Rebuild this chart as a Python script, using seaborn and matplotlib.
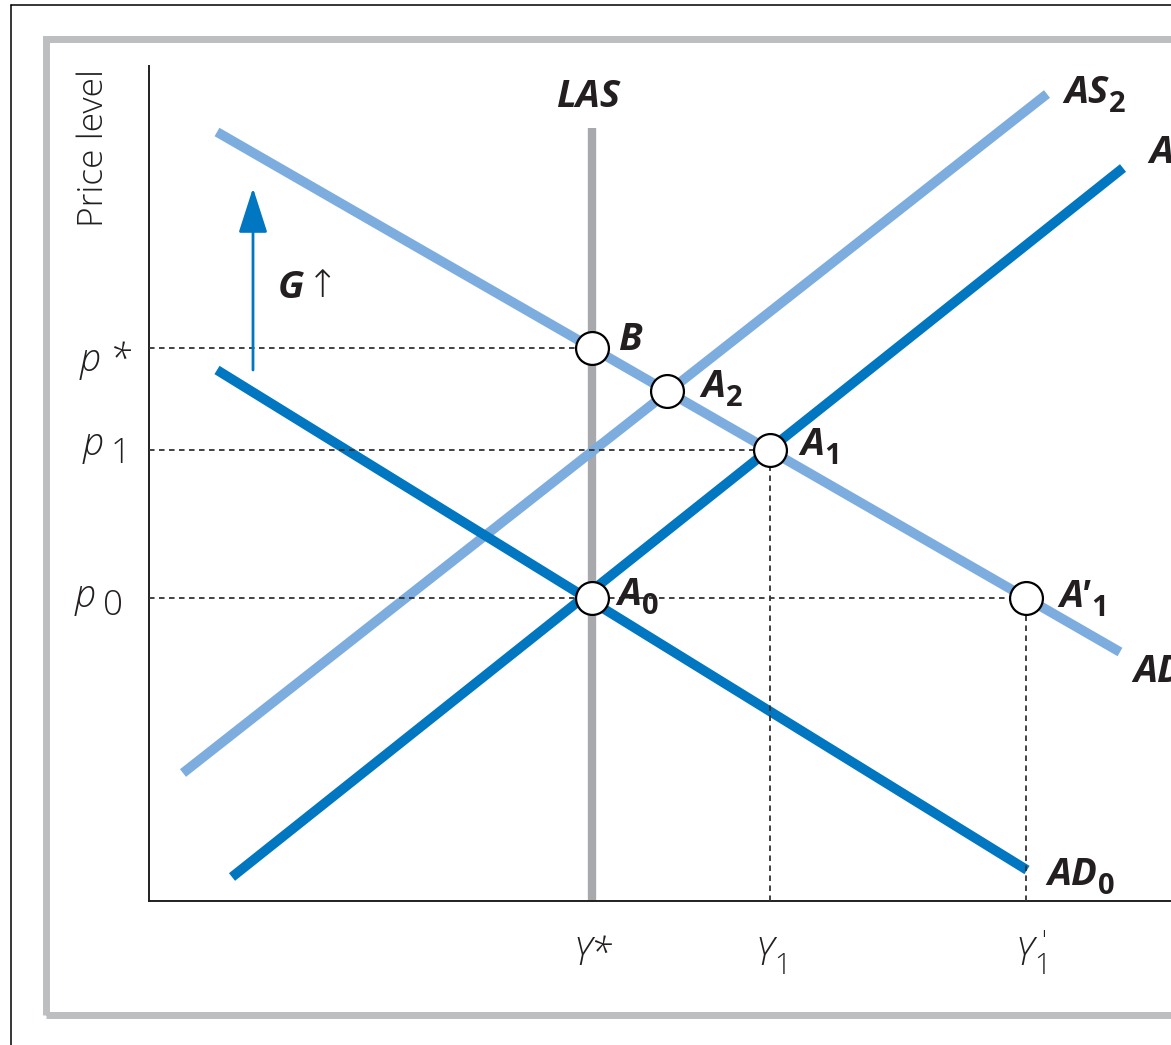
import matplotlib
matplotlib.use("Agg")
import numpy as np
import pandas as pd
import seaborn as sns
import matplotlib.pyplot as plt
from matplotlib.patches import Rectangle
from matplotlib.lines import Line2D

# ---------------- data (chart units: real output Y across, price level p up) ----------------
AS2_Y = [34, 898]
AS2_P = [128, 807]
AD1_Y = [68, 971]
AD1_P = [769, 249]
LAS_Y = [443, 443]
LAS_P = [0, 773]
AD0_Y = [68, 878]
AD0_P = [531, 31]
AS1_Y = [83, 974]
AS1_P = [24, 733]

point_names = ["B", "A2", "A1", "A0", "A'1"]
point_Y = [443, 518, 621, 443, 877]
point_P = [553, 510, 451, 303, 303]

# dashed guide lines: horizontal from the price axis, vertical down to the output axis
hguide_P = [553, 451, 303]
hguide_to_Y = [443, 621, 877]
vguide_Y = [621, 877]
vguide_to_P = [451, 303]

p_labels = [("p", "*"), ("p", "1"), ("p", "0")]
p_values = [553, 451, 303]
Y_labels = [("Y*", None), ("Y", "1"), ("Y", "1")]
Y_values = [443, 621, 878]

G_arrow_Y = [104, 104]
G_arrow_P = [531, 713]

# ---------------- style ----------------
sns.set_theme(style="white")
plt.rcParams["font.family"] = ["Open Sans", "DejaVu Sans"]
plt.rcParams["lines.scale_dashes"] = False

DARK = "#0077c0"
LIGHT = "#7dadde"
LASC = "#a7a9ac"
FRAME = "#bcbec0"
INK = "#231f20"

W, H = 1171, 1045
fig = plt.figure(figsize=(W / 100, H / 100), dpi=100)
fig.patch.set_facecolor("white")

# outer thin border and grey frame (cropped by figure edge on the right / bottom)
fig.add_artist(Line2D([11 / W, 11 / W], [-0.05, (H - 5) / H], transform=fig.transFigure,
                      color="black", lw=1.1))
fig.add_artist(Line2D([11 / W, 1.05], [(H - 5) / H, (H - 5) / H], transform=fig.transFigure,
                      color="black", lw=1.1))
fig.add_artist(Rectangle((45.5 / W, (H - 1015) / H), (1400 - 45.5) / W, (1015 - 38.5) / H,
                         transform=fig.transFigure, fill=False, ec=FRAME, lw=5.0))

ax = fig.add_axes([149 / W, (H - 901) / H, (W - 149) / W, (901 - 66) / H])
ax.set_xlim(0, W - 149)
ax.set_ylim(0, 901 - 66)
ax.set_facecolor("none")
for s in ["top", "right"]:
    ax.spines[s].set_visible(False)
for s in ["left", "bottom"]:
    ax.spines[s].set_color(INK)
    ax.spines[s].set_linewidth(1.4)
ax.set_xticks([])
ax.set_yticks([])

# curves
curve_kw = dict(ax=ax, estimator=None, sort=False, solid_capstyle="butt")
sns.lineplot(x=LAS_Y, y=LAS_P, color=LASC, linewidth=6.0, zorder=2, **curve_kw)
sns.lineplot(x=AS2_Y, y=AS2_P, color=LIGHT, linewidth=7.0, zorder=3, **curve_kw)
sns.lineplot(x=AD1_Y, y=AD1_P, color=LIGHT, linewidth=7.0, zorder=3, **curve_kw)
sns.lineplot(x=AD0_Y, y=AD0_P, color=DARK, linewidth=7.0, zorder=4, **curve_kw)
sns.lineplot(x=AS1_Y, y=AS1_P, color=DARK, linewidth=7.0, zorder=4, **curve_kw)

# dashed guides
dash = (0, (4.0, 3.2))
for p, yend in zip(hguide_P, hguide_to_Y):
    ax.plot([0, yend], [p, p], color="#333333", lw=1.3, linestyle=dash, zorder=5)
for y, pend in zip(vguide_Y, vguide_to_P):
    ax.plot([y, y], [0, pend], color="#333333", lw=1.3, linestyle=dash, zorder=5)

# equilibrium points
sns.scatterplot(x=point_Y, y=point_P, ax=ax, s=560, color="white", edgecolor="black",
                linewidth=1.6, zorder=6, clip_on=False)

# G arrow
ax.annotate("", xy=(G_arrow_Y[1], G_arrow_P[1]), xytext=(G_arrow_Y[0], G_arrow_P[0]),
            arrowprops=dict(arrowstyle="-|>,head_length=1.4,head_width=0.45", color=DARK,
                            lw=2.0, mutation_scale=20, shrinkA=0, shrinkB=0), zorder=5)


def label(x, y, main, sub=None, size=27.5, subsize=21, weight="bold", style="italic",
          subweight=None, substyle="normal", gap=0.5, drop=0.0, ha="left"):
    t = ax.text(x, y, main, fontsize=size, fontweight=weight, fontstyle=style,
                ha=ha, va="baseline", color=INK, clip_on=False, zorder=7)
    s = None
    if sub is not None:
        s = ax.annotate(sub, xy=(1, 0), xycoords=t, xytext=(gap, drop), textcoords="offset points",
                        fontsize=subsize, fontweight=subweight or weight,
                        fontstyle=substyle, ha="left", va="baseline", color=INK,
                        annotation_clip=False, zorder=7)
    return t, s


# curve labels
label(407, 794, "LAS")
label(915, 798, "AS", "2")
label(1000, 738, "AS", "1")
label(984, 219, "AD", "1")
label(898, 16, "AD", "0")
# point labels
label(469, 551, "B")
label(552, 504, "A", "2")
label(651, 446, "A", "1")
label(468, 296, "A", "0")
label(910, 294, "A'", "1")
# policy arrow label
gt, _ = label(129, 603, "G")
ax.annotate("\u2191", xy=(1, 0), xycoords=gt, xytext=(2, 7), textcoords="offset points",
            fontsize=27, fontweight="light", fontstyle="normal", ha="left", va="baseline",
            color=INK, annotation_clip=False, family=["DejaVu Sans"])

# axis tick-like labels
p_x = [-69, -66, -74]
p_base = [530, 446, 294]
for (m, sb), x, yb in zip(p_labels, p_x, p_base):
    if sb == "*":
        label(x, yb, m + " *", size=27, weight="light", style="italic")
    else:
        label(x, yb, m, sb, size=27, subsize=25, weight="light", style="italic",
              subweight="light", substyle="normal", gap=5, drop=1)

Y_x = [424, 606, 866]
for (m, sb), x in zip(Y_labels, Y_x):
    t, s = label(x, -64, m, sb, size=27, subsize=21, weight="light", style="italic",
                 subweight="light", substyle="normal", gap=1, drop=0)
Y_prime = ax.annotate("'", xy=(0.55, 0.9), xycoords=s, xytext=(0, 0), textcoords="offset points",
                      fontsize=18, fontweight="light", ha="center", va="bottom", color=INK,
                      annotation_clip=False)

# axis title
ax.text(-55, 753, "Price level", rotation=90, fontsize=25.5, fontweight="light",
        ha="center", va="center", color=INK, clip_on=False)

fig.savefig("out.png", dpi=100, facecolor="white")
